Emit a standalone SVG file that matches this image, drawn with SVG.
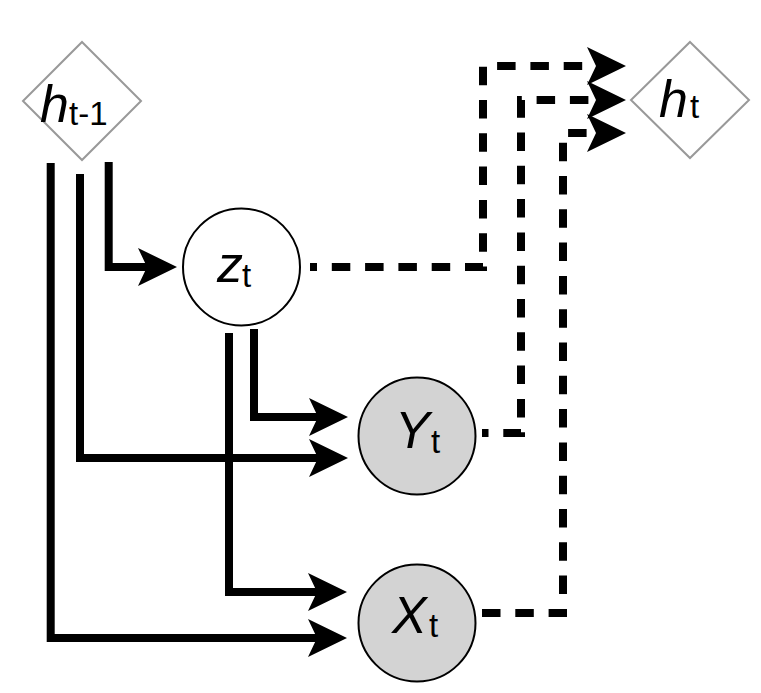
<svg xmlns="http://www.w3.org/2000/svg" width="761" height="693" viewBox="0 0 761 693">
<style>
.solid{fill:none;stroke:#000;stroke-width:8;stroke-linejoin:miter;stroke-linecap:butt}
.dash{fill:none;stroke:#000;stroke-width:8;stroke-dasharray:18.5 14.8;stroke-linejoin:miter}
.head{fill:#000;stroke:none}
.diamond{fill:#fff;stroke:#999;stroke-width:2}
.circ{stroke:#000;stroke-width:2}
.lbl{font-family:"Liberation Sans",Arial,sans-serif;fill:#000}
.big{font-size:52px;font-style:italic}
.sub{font-size:33px}
</style>
<defs>
<path id="ah" d="M0 0 L-39 -19 L-30 0 L-39 19 Z"/>
</defs>
<g id="connectors">
<path class="solid" d="M108.7 162 V267 H150"/>
<use href="#ah" class="head" x="177" y="267"/>
<path class="solid" d="M80 174 V458 H320"/>
<use href="#ah" class="head" x="348" y="458"/>
<path class="solid" d="M50.7 163 V638 H320"/>
<use href="#ah" class="head" x="347" y="638"/>
<path class="solid" d="M254 329 V417 H320"/>
<use href="#ah" class="head" x="348" y="417"/>
<path class="solid" d="M229 333 V592 H320"/>
<use href="#ah" class="head" x="347" y="592"/>
<path class="dash" style="stroke-dashoffset:11.5" d="M310 267 H483 V66 H598"/>
<use href="#ah" class="head" x="626" y="66"/>
<path class="dash" style="stroke-dashoffset:12" d="M482 433 H521 V100 H598"/>
<use href="#ah" class="head" x="626" y="100"/>
<path class="dash" d="M482 613 H563 V133 H598"/>
<use href="#ah" class="head" x="626" y="133"/>
</g>
<g id="h_prev">
<polygon class="diamond" points="82,42 141,101 82,160 23,101"/>
<text class="lbl"><tspan class="big" x="40" y="122">h</tspan><tspan class="sub" x="69" y="125">t-1</tspan></text>
</g>
<g id="h_t">
<polygon class="diamond" points="690,42 749,100 690,158 631,100"/>
<text class="lbl"><tspan class="big" x="659" y="117">h</tspan><tspan class="sub" x="690" y="118">t</tspan></text>
</g>
<g id="z_t">
<circle class="circ" cx="241.5" cy="267" r="58.5" fill="#fff"/>
<text class="lbl"><tspan class="big" x="217" y="282">z</tspan><tspan class="sub" x="242" y="287">t</tspan></text>
</g>
<g id="Y_t">
<circle class="circ" cx="417" cy="436" r="58.5" fill="#d3d3d3"/>
<text class="lbl"><tspan class="big" x="395" y="448">Y</tspan><tspan class="sub" x="431" y="453">t</tspan></text>
</g>
<g id="X_t">
<circle class="circ" cx="417" cy="623" r="58.5" fill="#d3d3d3"/>
<text class="lbl"><tspan class="big" x="392" y="633">X</tspan><tspan class="sub" x="429" y="637">t</tspan></text>
</g>
</svg>
